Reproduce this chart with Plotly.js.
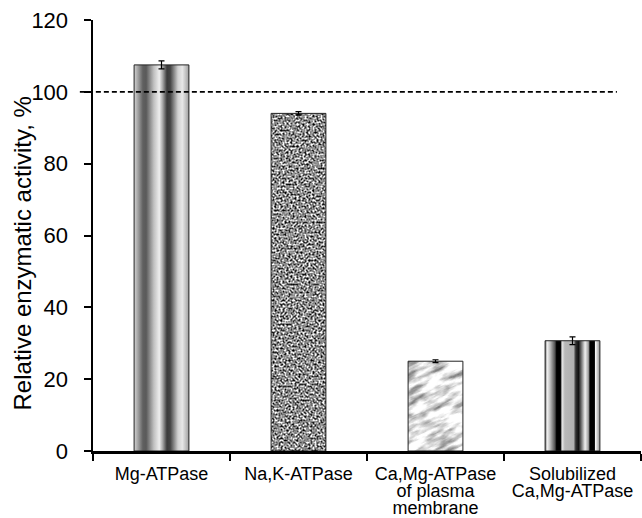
<!DOCTYPE html>
<html>
<head>
<meta charset="utf-8">
<script src="https://cdn.plot.ly/plotly-3.0.1.min.js"></script>
<style>
html,body{margin:0;padding:0;background:#fff;}
#chart{width:642px;height:518px;}
</style>
</head>
<body>
<div id="chart"></div>
<script>
// ---- data ----
const categories = ["Mg-ATPase", "Na,K-ATPase", "Ca,Mg-ATPase of plasma membrane", "Solubilized Ca,Mg-ATPase"];
const tickLabels = ["Mg-ATPase", "Na,K-ATPase", "Ca,Mg-ATPase<br>of plasma<br>membrane", "Solubilized<br>Ca,Mg-ATPase"];
const activity = [107.5, 94.0, 25.0, 30.7];
const activityErr = [1.1, 0.5, 0.4, 1.1];
const referenceLevel = 100;
const yTicks = [0, 20, 40, 60, 80, 100, 120];
const yTitle = 'Relative enzymatic activity, %';

const fontFam = '"Liberation Sans", Arial, Helvetica, sans-serif';

const trace = {
  type: 'bar',
  x: categories,
  y: activity,
  width: 0.4,
  marker: { color: '#999999', line: { color: '#222222', width: 1 } },
  error_y: { type: 'data', array: activityErr, visible: true, color: '#000000', thickness: 1.2, width: 3 },
  hoverinfo: 'none'
};

const layout = {
  width: 642, height: 518,
  margin: { l: 93, r: 1, t: 20, b: 67 },
  paper_bgcolor: '#ffffff', plot_bgcolor: '#ffffff',
  showlegend: false,
  font: { family: fontFam, color: '#000000' },
  xaxis: {
    type: 'category',
    range: [-0.5, 3.5],
    tickmode: 'array', tickvals: categories, ticktext: tickLabels,
    tickson: 'boundaries',
    ticks: 'outside', ticklen: 7, tickwidth: 2, tickcolor: '#000',
    showline: true, linewidth: 2.5, linecolor: '#000',
    showgrid: false, zeroline: false,
    tickfont: { size: 18, family: fontFam, color: '#000' },
    ticklabelstandoff: 5,
    tickangle: 0, fixedrange: true
  },
  yaxis: {
    range: [0, 120],
    tickmode: 'array', tickvals: yTicks,
    ticks: 'outside', ticklen: 7, tickwidth: 2, tickcolor: '#000',
    showline: true, linewidth: 2.5, linecolor: '#000',
    showgrid: false, zeroline: false,
    tickfont: { size: 22, family: fontFam, color: '#000' },
    ticklabelstandoff: 11,
    fixedrange: true
  },
  annotations: [{
    text: yTitle, xref: 'paper', yref: 'paper', x: -0.128, y: 0.458,
    xanchor: 'center', yanchor: 'middle', textangle: -90, showarrow: false,
    font: { size: 24, family: fontFam, color: '#000' }
  }],
  shapes: [{
    type: 'line', xref: 'paper', yref: 'y',
    x0: -0.024, x1: 0.956, y0: referenceLevel, y1: referenceLevel,
    line: { color: '#000', width: 1.6, dash: '5px,3px' }, layer: 'above'
  }]
};

const gd = document.getElementById('chart');
Plotly.newPlot(gd, [trace], layout, { staticPlot: true, displayModeBar: false }).then(function () {
  const svg = gd.querySelector('svg.main-svg');
  const NS = 'http://www.w3.org/2000/svg';
  const defs = document.createElementNS(NS, 'defs');
  function grad(id, stops) {
    const g = document.createElementNS(NS, 'linearGradient');
    g.setAttribute('id', id);
    g.setAttribute('x1', '0'); g.setAttribute('x2', '1');
    g.setAttribute('y1', '0'); g.setAttribute('y2', '0');
    stops.forEach(function (s) {
      const st = document.createElementNS(NS, 'stop');
      st.setAttribute('offset', s[0]);
      st.setAttribute('stop-color', s[1]);
      g.appendChild(st);
    });
    defs.appendChild(g);
  }
  grad('gMg', [[0, '#d0d0d0'], [0.04, '#b8b8b8'], [0.16, '#606060'], [0.22, '#5a5a5a'], [0.36, '#c0c0c0'],
    [0.46, '#eeeeee'], [0.52, '#a8a8a8'], [0.60, '#3a3a3a'], [0.66, '#444444'], [0.80, '#d0d0d0'],
    [0.88, '#e8e8e8'], [1, '#a0a0a0']]);
  grad('gSol', [[0, '#707070'], [0.04, '#f0f0f0'], [0.09, '#c0c0c0'], [0.18, '#505050'], [0.21, '#000000'],
    [0.28, '#000000'], [0.31, '#e8e8e8'], [0.36, '#b8b8b8'], [0.52, '#b0b0b0'], [0.56, '#303030'],
    [0.61, '#101010'], [0.67, '#808080'], [0.73, '#f0f0f0'], [0.79, '#a0a0a0'], [0.82, '#000000'],
    [0.90, '#000000'], [0.92, '#f8f8f8'], [1, '#909090']]);
  defs.innerHTML +=
    '<filter id="fNoise" x="0" y="0" width="100%" height="100%" color-interpolation-filters="sRGB">' +
    '<feTurbulence type="fractalNoise" baseFrequency="0.5" numOctaves="2" seed="7"/>' +
    '<feColorMatrix type="matrix" values="2.1 0 0 0 -0.5  2.1 0 0 0 -0.5  2.1 0 0 0 -0.5  0 0 0 0 1"/>' +
    '</filter>' +
    '<filter id="fStreak" x="0" y="0" width="100%" height="100%" color-interpolation-filters="sRGB">' +
    '<feTurbulence type="fractalNoise" baseFrequency="0.04 0.14" numOctaves="4" seed="11"/>' +
    '<feColorMatrix type="matrix" values="1.4 0 0 0 0.2  1.4 0 0 0 0.2  1.4 0 0 0 0.2  0 0 0 0 1"/>' +
    '</filter>' +
    '<pattern id="pNoise" patternUnits="userSpaceOnUse" x="0" y="0" width="642" height="518">' +
    '<rect x="0" y="0" width="642" height="518" fill="#888" filter="url(#fNoise)"/></pattern>' +
    '<pattern id="pStreak" patternUnits="userSpaceOnUse" x="0" y="0" width="900" height="900" patternTransform="rotate(-25)">' +
    '<rect x="0" y="0" width="900" height="900" fill="#eee" filter="url(#fStreak)"/></pattern>';
  svg.insertBefore(defs, svg.firstChild);

  const fills = ['url(#gMg)', 'url(#pNoise)', 'url(#pStreak)', 'url(#gSol)'];
  const paths = gd.querySelectorAll('.barlayer .trace .point path');
  paths.forEach(function (p, i) { p.style.setProperty('fill', fills[i % fills.length]); p.style.setProperty('fill-opacity', '1'); });

  // tighter line spacing for multi-line category labels (as in the reference)
  gd.querySelectorAll('.xtick text tspan.line').forEach(function (t) {
    const dy = t.getAttribute('dy');
    if (dy && dy.indexOf('em') > 0) {
      const v = parseFloat(dy);
      t.setAttribute('dy', (v * 0.95 / 1.3) + 'em');
    }
  });
});
</script>
</body>
</html>
